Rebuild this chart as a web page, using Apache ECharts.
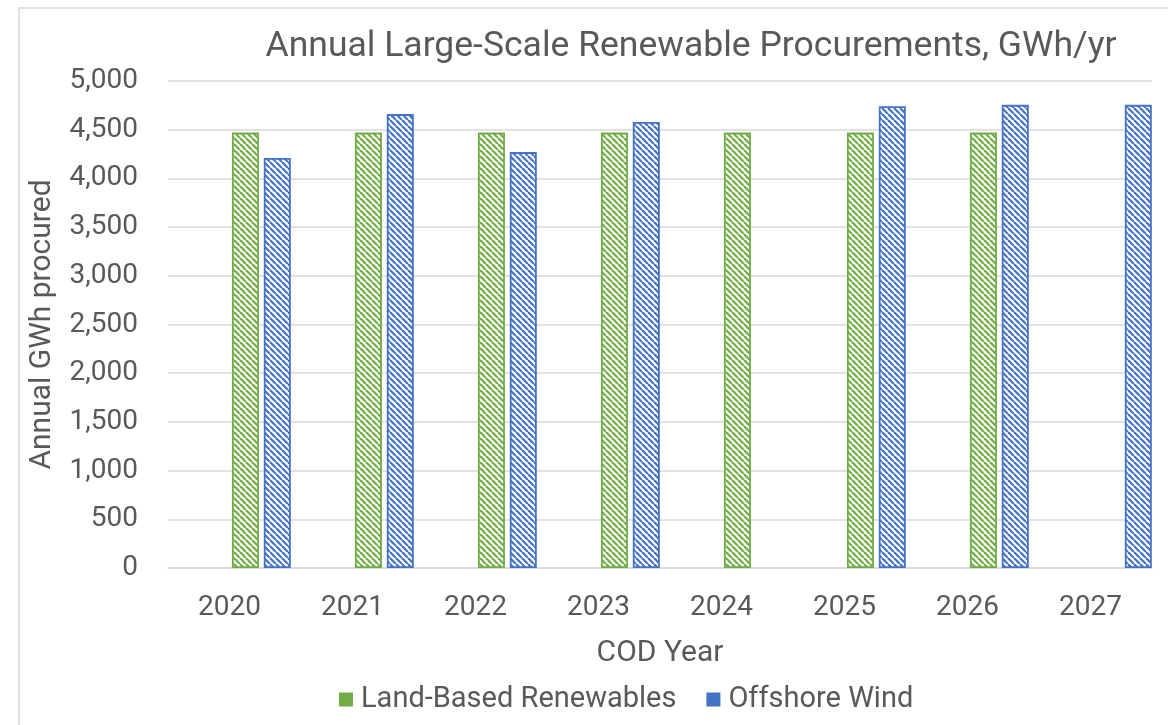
<!DOCTYPE html>
<html>
<head>
<meta charset="utf-8">
<script src="https://cdn.jsdelivr.net/npm/echarts@6/dist/echarts.min.js"></script>
<style>
	html, body { margin: 0; padding: 0; background: #fff; }
	#chart { width: 1168px; height: 725px; }
</style>
</head>
<body>
<div id="chart"></div>
<script>
	var years = ['2020', '2021', '2022', '2023', '2024', '2025', '2026', '2027'];
	var landBased = [4470, 4470, 4470, 4470, 4470, 4470, 4470, null];
	var offshoreWind = [4210, 4660, 4270, 4580, null, 4740, 4755, 4755];
	var emptySlots = [null, null, null, null, null, null, null, null];

	var GREEN = '#70AD47';
	var BLUE = '#4472C4';
	var TEXT = '#595959';
	var FONT = 'Roboto';

	// hatch tile: diagonal "\" stripes on white
	function stripes(color) {
		var s = 6;
		var c = document.createElement('canvas');
		c.width = s;
		c.height = s;
		var ctx = c.getContext('2d');
		ctx.fillStyle = '#fff';
		ctx.fillRect(0, 0, s, s);
		ctx.strokeStyle = color;
		ctx.lineWidth = 2.2;
		for (var k = -1; k <= 1; k++) {
			ctx.beginPath();
			ctx.moveTo(k * s, 0);
			ctx.lineTo(k * s + s, s);
			ctx.stroke();
		}
		return c;
	}

	function barSeries(name, data, color) {
		return {
			name: name,
			type: 'bar',
			barWidth: 27,
			barGap: '18%',
			data: data,
			itemStyle: color ? {
				color: { image: stripes(color), repeat: 'repeat' },
				borderColor: color,
				borderWidth: 1.8
			} : {}
		};
	}

	var chart = echarts.init(document.getElementById('chart'));
	chart.setOption({
		animation: false,
		textStyle: { fontFamily: FONT },
		graphic: [{
			type: 'rect',
			shape: { x: 19, y: 8, width: 1200, height: 760 },
			style: { fill: 'none', stroke: '#d9d9d9', lineWidth: 1.5 },
			silent: true
		}],
		title: {
			text: 'Annual Large-Scale Renewable Procurements, GWh/yr',
			left: 686,
			top: 24,
			textAlign: 'center',
			textStyle: { color: TEXT, fontSize: 35.5, fontWeight: 'normal', fontFamily: FONT }
		},
		legend: {
			bottom: 6,
			left: 334,
			itemWidth: 14,
			itemHeight: 14,
			itemGap: 30,
			icon: 'rect',
			textStyle: { color: TEXT, fontSize: 29, fontFamily: FONT, padding: [0, 0, 0, 3] },
			data: [
				{ name: 'Land-Based Renewables', itemStyle: { color: GREEN, borderWidth: 0 } },
				{ name: 'Offshore Wind', itemStyle: { color: BLUE, borderWidth: 0 } }
			]
		},
		grid: { left: 168, right: 16, top: 81, bottom: 157 },
		xAxis: {
			type: 'category',
			data: years,
			name: 'COD Year',
			nameLocation: 'middle',
			nameGap: 70,
			nameTextStyle: { color: TEXT, fontSize: 30 },
			axisTick: { show: false },
			axisLine: { lineStyle: { color: '#d9d9d9', width: 1.5 } },
			axisLabel: { color: TEXT, fontSize: 28, margin: 26 }
		},
		yAxis: {
			type: 'value',
			min: 0,
			max: 5000,
			interval: 500,
			name: 'Annual GWh procured',
			nameLocation: 'middle',
			nameGap: 111,
			nameTextStyle: { color: TEXT, fontSize: 30 },
			axisLine: { show: false },
			axisTick: { show: false },
			splitLine: { lineStyle: { color: '#d9d9d9', width: 1.5 } },
			axisLabel: {
				color: TEXT,
				fontSize: 28,
				margin: 30,
				formatter: function (v) { return v.toLocaleString('en-US'); }
			}
		},
		series: [
			barSeries('', emptySlots, null),
			barSeries(' ', emptySlots, null),
			barSeries('Land-Based Renewables', landBased, GREEN),
			barSeries('Offshore Wind', offshoreWind, BLUE)
		]
	});
</script>
</body>
</html>
